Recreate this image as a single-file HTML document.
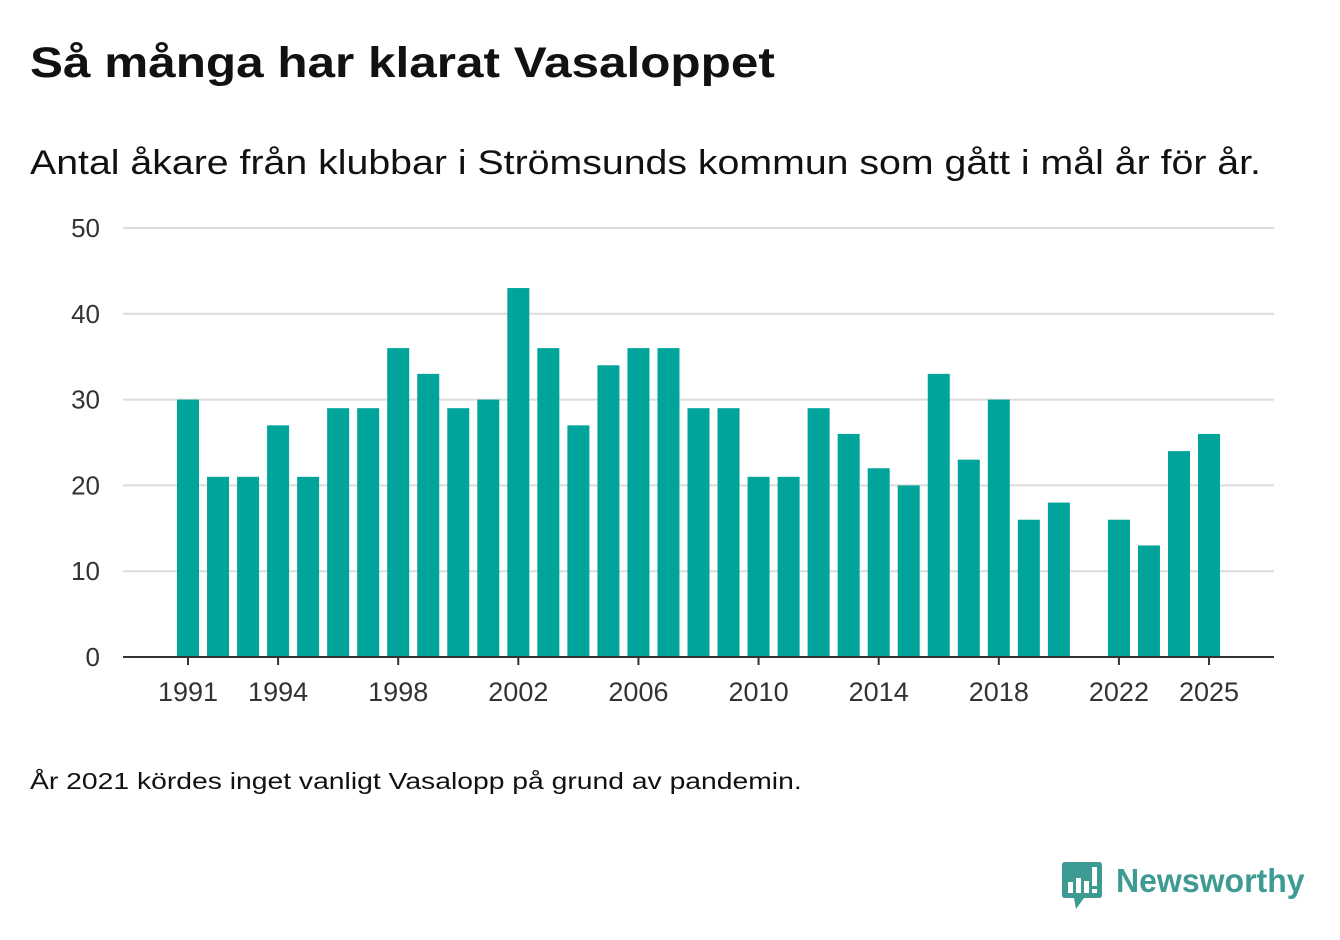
<!DOCTYPE html>
<html><head><meta charset="utf-8"><style>
body{margin:0;width:1340px;height:940px;background:#fff;font-family:"Liberation Sans",sans-serif;color:#111;position:relative;overflow:hidden}
#title{position:absolute;left:30px;top:39px;font-size:43px;font-weight:bold;margin:0;transform:scaleX(1.15);transform-origin:left;white-space:nowrap}
#sub{position:absolute;left:30px;top:144px;font-size:34px;transform:scaleX(1.155);transform-origin:left;white-space:nowrap}
#note{position:absolute;left:30px;top:768px;font-size:23px;transform:scaleX(1.23);transform-origin:left;white-space:nowrap}
svg{position:absolute;left:0;top:0}
</style></head><body>
<h1 id="title">Så många har klarat Vasaloppet</h1>
<div id="sub">Antal åkare från klubbar i Strömsunds kommun som gått i mål år för år.</div>
<div id="note">År 2021 kördes inget vanligt Vasalopp på grund av pandemin.</div>
<svg id="chart" width="1340" height="940"></svg>
<script>
const years=[1991,1992,1993,1994,1995,1996,1997,1998,1999,2000,2001,2002,2003,2004,2005,2006,2007,2008,2009,2010,2011,2012,2013,2014,2015,2016,2017,2018,2019,2020,2021,2022,2023,2024,2025];
const values=[30,21,21,27,21,29,29,36,33,29,30,43,36,27,34,36,36,29,29,21,21,29,26,22,20,33,23,30,16,18,null,16,13,24,26];
const yTicks=[0,10,20,30,40,50];
const xTicks=[1991,1994,1998,2002,2006,2010,2014,2018,2022,2025];
const svg=document.getElementById('chart');const NS='http://www.w3.org/2000/svg';
const y=v=>657-v*8.58;const x=yr=>188+(yr-1991)*30.03;
function mk(t,a){const e=document.createElementNS(NS,t);for(const k in a)e.setAttribute(k,a[k]);svg.appendChild(e);return e;}
yTicks.forEach(t=>{
 if(t>0){const g=mk('line',{x1:123,x2:1274,y1:y(t),y2:y(t),stroke:'#dcdcdc','stroke-width':2});
 
 }
 const l=mk('text',{x:100,y:y(t)+9,'text-anchor':'end','font-size':26,fill:'#333','font-family':'Liberation Sans, sans-serif'});l.textContent=t;
 
 
});
years.forEach((yr,i)=>{const v=values[i];if(v==null)return;
 const r=mk('rect',{x:x(yr)-11,y:y(v),width:22,height:657-y(v),fill:'#00a49a'});
 
 
});
const ax=mk('line',{x1:123,x2:1274,y1:657,y2:657,stroke:'#333','stroke-width':2});


xTicks.forEach(t=>{
 const tk=mk('line',{x1:x(t),x2:x(t),y1:657,y2:665,stroke:'#333','stroke-width':2});
 
 
 const l=mk('text',{x:x(t),y:701,'text-anchor':'middle','font-size':27,fill:'#333','font-family':'Liberation Sans, sans-serif'});l.textContent=t;
 
 
});
</script>
<div style="position:absolute;left:1062px;top:862px;width:250px;height:50px">
<svg width="40" height="48" style="position:absolute;left:0;top:0"><path d="M3 0H37Q40 0 40 3V33Q40 36 37 36H22L14 47L12 36H3Q0 36 0 33V3Q0 0 3 0Z" fill="#3d9b94"/><rect x="6" y="20" width="5" height="11" fill="#fff"/><rect x="14" y="16" width="5" height="15" fill="#fff"/><rect x="22" y="19" width="5" height="12" fill="#fff"/><rect x="30" y="5" width="5" height="19" fill="#fff"/><rect x="30" y="27" width="5" height="4" fill="#fff"/></svg>
<span style="position:absolute;left:54px;top:0;font-size:33px;font-weight:bold;color:#3d9b94;transform:scaleX(0.97);transform-origin:left">Newsworthy</span></div>
</body></html>
